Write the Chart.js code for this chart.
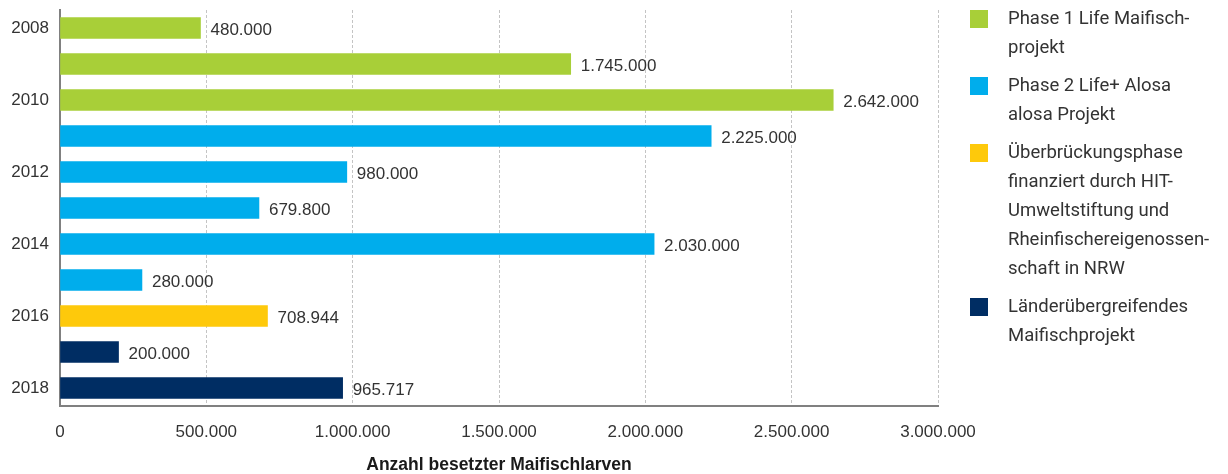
<!DOCTYPE html>
<html lang="de">
<head>
<meta charset="utf-8">
<title>Besatz mit Maifischlarven 2008–2018</title>
<script src="https://cdn.jsdelivr.net/npm/chart.js@4/dist/chart.umd.min.js"></script>
<style>
  html, body { margin: 0; padding: 0; background: #ffffff; }
  #wrap { position: relative; width: 1228px; height: 474px; overflow: hidden; }
  #chart { position: absolute; left: 0; top: 0; }
  #legend { position: absolute; left: 970px; top: 3.5px; width: 258px;
            font-family: Roboto, "Noto Sans", sans-serif; font-size: 18.5px;
            line-height: 29px; color: #333333; }
  .item { position: relative; padding-left: 38px; margin-bottom: 9px; white-space: pre-line; }
  .swatch { position: absolute; left: 0; top: 6px; width: 18px; height: 18px; }
</style>
</head>
<body>
<div id="wrap">
  <canvas id="chart" width="1228" height="474"></canvas>
  <div id="legend"></div>
</div>
<script>
// Years on the category axis
const years = ['2008', '2009', '2010', '2011', '2012', '2013', '2014', '2015', '2016', '2017', '2018'];
// Number of stocked shad larvae per year
const larvae = [480000, 1745000, 2642000, 2225000, 980000, 679800, 2030000, 280000, 708944, 200000, 965717];
// Project phase that financed each year's stocking (index into phaseLabels)
const phaseOfYear = [0, 0, 0, 1, 1, 1, 1, 1, 2, 3, 3];
// Project phases shown in the legend
const phaseLabels = [
  'Phase 1 Life Maifisch-\nprojekt',
  'Phase 2 Life+ Alosa\nalosa Projekt',
  'Überbrückungsphase\nfinanziert durch HIT-\nUmweltstiftung und\nRheinfischereigenossen-\nschaft in NRW',
  'Länderübergreifendes\nMaifischprojekt'
];
const phaseColors = ['#a8cf38', '#00adec', '#fec90b', '#002d63'];
// Value axis ticks
const xTicks = [0, 500000, 1000000, 1500000, 2000000, 2500000, 3000000];
const axisTitle = 'Anzahl besetzter Maifischlarven';

const AXIS_FONT = '"Liberation Sans", Arial, sans-serif';
const TEXT = '#333333';

// German thousands separator
function fmt(v) {
  return String(Math.round(v)).replace(/\B(?=(\d{3})+(?!\d))/g, '.');
}

// One dataset per phase; years outside a phase stay empty
const datasets = phaseLabels.map((label, p) => ({
  label: label,
  data: larvae.map((v, i) => (phaseOfYear[i] === p ? v : null)),
  backgroundColor: phaseColors[p],
  borderWidth: 0,
  grouped: false,
  barThickness: 21
}));

// Value labels to the right of each bar
const valueLabels = {
  id: 'valueLabels',
  afterDatasetsDraw(chart) {
    const ctx = chart.ctx;
    ctx.save();
    ctx.font = '17px ' + AXIS_FONT;
    ctx.fillStyle = TEXT;
    ctx.textAlign = 'left';
    ctx.textBaseline = 'middle';
    chart.data.datasets.forEach((ds, di) => {
      const meta = chart.getDatasetMeta(di);
      meta.data.forEach((el, i) => {
        const v = ds.data[i];
        if (v === null || v === undefined) return;
        ctx.fillText(fmt(v), el.x + 10, el.y + 2);
      });
    });
    ctx.restore();
  }
};

new Chart(document.getElementById('chart'), {
  type: 'bar',
  data: { labels: years, datasets: datasets },
  plugins: [valueLabels],
  options: {
    indexAxis: 'y',
    responsive: false,
    animation: false,
    layout: { padding: { top: 10, right: 290, left: 0, bottom: 0 } },
    plugins: { legend: { display: false }, tooltip: { enabled: false } },
    scales: {
      x: {
        min: 0,
        max: 3000000,
        afterBuildTicks(scale) { scale.ticks = xTicks.map(v => ({ value: v })); },
        afterFit(scale) { scale.height = 68; },
        grid: { color: '#c4c4c4', lineWidth: 1, drawTicks: false },
        border: { display: true, color: '#808080', width: 2, dash: [3, 2] },
        ticks: {
          padding: 16,
          color: TEXT,
          font: { family: AXIS_FONT, size: 17 },
          callback: (v) => fmt(v)
        },
        title: {
          display: true,
          text: axisTitle,
          color: '#1a1a1a',
          font: { family: AXIS_FONT, size: 17.5, weight: 'bold', lineHeight: 1 },
          padding: { top: 8, bottom: 0 }
        }
      },
      y: {
        afterFit(scale) {
          scale.width = 60;
          scale.paddingTop = 0;
          scale.paddingBottom = 0;
        },
        grid: { display: false, drawTicks: false },
        border: { display: true, color: '#808080', width: 2 },
        ticks: {
          autoSkip: false,
          padding: 11,
          color: TEXT,
          font: { family: AXIS_FONT, size: 17 },
          callback: (v, i) => (i % 2 === 0 ? years[i] : '')
        }
      }
    }
  }
});

// Legend built from the same phase lists
const legend = document.getElementById('legend');
phaseLabels.forEach((label, p) => {
  const item = document.createElement('div');
  item.className = 'item';
  const sw = document.createElement('span');
  sw.className = 'swatch';
  sw.style.background = phaseColors[p];
  item.appendChild(sw);
  item.appendChild(document.createTextNode(label));
  legend.appendChild(item);
});
</script>
</body>
</html>
